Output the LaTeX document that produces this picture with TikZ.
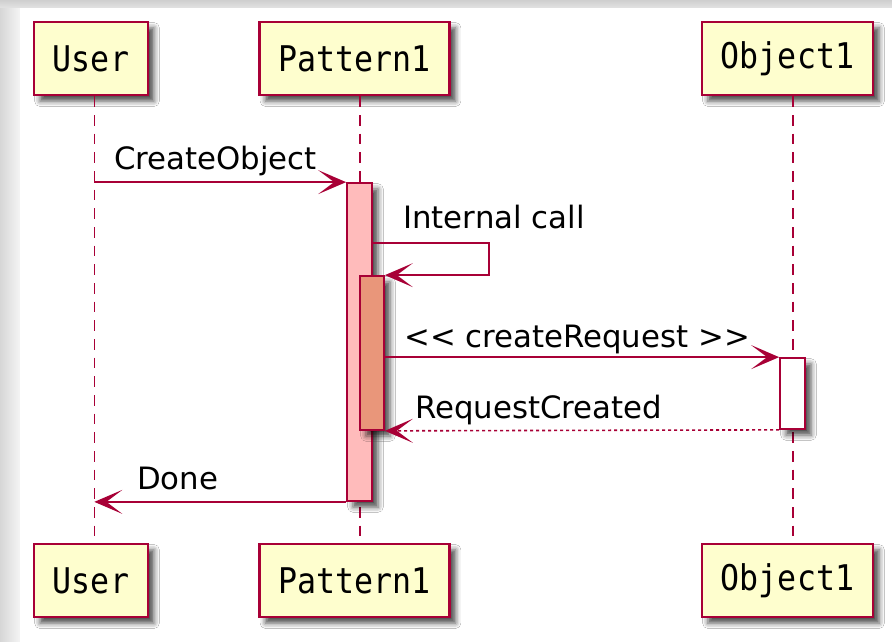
\documentclass[tikz,border=0pt]{standalone}
\usepackage{graphicx}
\usepackage{fontspec}
\setmainfont{DejaVu Sans}
\setmonofont{DejaVu Sans Mono}
\usetikzlibrary{arrows.meta,shadows.blur}

\definecolor{umlred}{HTML}{A80036}
\definecolor{umlbox}{HTML}{FEFECE}
\definecolor{actpink}{HTML}{FFBBBB}
\definecolor{actsalmon}{HTML}{E9967A}

% participant names are set a little taller than the mono font
\newcommand{\umlname}[1]{\scalebox{1}[1.12]{#1}}

\tikzset{
  umlshadow/.style={blur shadow={shadow xshift=4.5pt, shadow yshift=-4.5pt,
      shadow blur radius=4pt, shadow opacity=70}},
  actor/.style={draw=umlred, line width=1.8pt, fill=umlbox, umlshadow,
      minimum height=55pt, inner xsep=14.2pt,
      font=\ttfamily\fontsize{23.7}{28}\selectfont},
  lifeline/.style={umlred, line width=1.2pt, dash pattern=on 8pt off 6pt},
  actbar/.style={draw=umlred, line width=1.3pt, umlshadow, inner sep=0pt,
      minimum width=18.75pt},
  msg/.style={umlred, line width=1.2pt,
      -{Stealth[length=21pt, width=18pt, inset=12pt]}},
  reply/.style={msg, dash pattern=on 2.25pt off 2.25pt},
  lbl/.style={anchor=base west, inner sep=0pt,
      font=\fontsize{23.1}{28}\selectfont},
}

\begin{document}
\begin{tikzpicture}[x=0.75pt, y=-0.75pt]
  \useasboundingbox (0,0) rectangle (892,642);
  % page frame
  \shade[left color=gray!32, right color=gray!8] (0,0) rectangle (20,642);
  \shade[top color=gray!38, bottom color=gray!22] (0,0) rectangle (892,8);
  \fill[white] (20,8) rectangle (892,642);

  % participants, top and bottom
  \node[actor] (userT) at (91,58.5) {\umlname{User}};
  \node[actor] (patT) at (354.5,58.5) {\umlname{Pattern1}};
  \node[actor] (objT) at (787.5,58.5) {\umlname{Object1}};
  \node[actor] (userB) at (91,580.5) {\umlname{User}};
  \node[actor] (patB) at (354.5,580.5) {\umlname{Pattern1}};
  \node[actor] (objB) at (787.5,580.5) {\umlname{Object1}};

  % lifelines
  \coordinate (userL) at ([xshift=2.5pt]userT.south);
  \coordinate (patL) at ([xshift=4pt]patT.south);
  \coordinate (objL) at ([xshift=4pt]objT.south);
  \draw[lifeline] (userL) -- (userL |- userB.north);
  \draw[lifeline] (patL) -- (patL |- patB.north);
  \draw[lifeline] (objL) -- (objL |- objB.north);

  % activations
  \node[actbar, fill=actpink, minimum height=238.5pt] (actP) at (359.5,342) {};
  \node[actbar, fill=actsalmon, minimum width=18pt, minimum height=115.5pt]
    (actI) at (372,353) {};
  \node[actbar, fill=white, minimum height=53.25pt] (actO) at (792.5,393.5) {};

  % messages
  \draw[msg] (userL |- actP.north west) -- (actP.north west);
  \node[lbl] (lblCreate) at (114,169) {CreateObject};

  \coordinate (selfOut) at (actP.east |- 0,243);
  \draw[msg] (selfOut) -- ++(116,0) |- (actI.north east);
  \node[lbl] (lblInternal) at (403,228) {Internal call};

  \draw[msg] (actI.east |- actO.north west) -- (actO.north west);
  \node[lbl] (lblRequest) at (404,347) {{<}{<} createRequest {>}{>}};

  \draw[reply] (actO.south west) -- (actI.south east);
  \node[lbl] (lblCreated) at (415,418) {RequestCreated};

  \draw[msg] (actP.south west) -- (userL |- actP.south west);
  \node[lbl] (lblDone) at (137,489) {Done};
\end{tikzpicture}
\end{document}
